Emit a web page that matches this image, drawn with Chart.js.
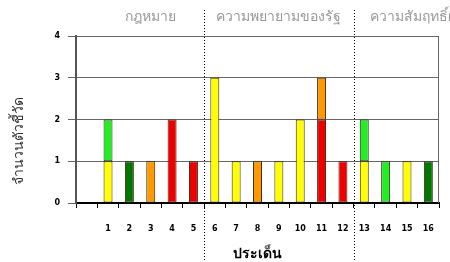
<!DOCTYPE html>
<html lang="th">

<head>
    <meta charset="UTF-8">
    <title>จำนวนตัวชี้วัดตามประเด็น</title>
    <style>
        html, body {
            margin: 0;
            padding: 0;
            background: #fff;
        }

        #wrap {
            width: 450px;
            height: 262px;
            position: relative;
        }
    </style>
    <script src="https://cdn.jsdelivr.net/npm/chart.js"></script>
</head>

<body>
    <div id="wrap"><canvas id="chart"></canvas></div>

    <script>
        // ข้อมูล
        const categories = ['', '1', '2', '3', '4', '5', '6', '7', '8', '9', '10', '11', '12', '13', '14', '15', '16'];
        const yellowVals    = [null, 1, null, null, null, null, 3, 1, null, 1, 2, null, null, 1, null, 1, null];
        const redVals       = [null, null, null, null, 2, 1, null, null, null, null, null, 2, 1, null, null, null, null];
        const darkGreenVals = [null, null, 1, null, null, null, null, null, null, null, null, null, null, null, null, null, 1];
        const orangeVals    = [null, null, null, 1, null, null, null, null, 1, null, null, 1, null, null, null, null, null];
        const greenVals     = [null, 1, null, null, null, null, null, null, null, null, null, null, null, 1, 1, null, null];
        const yTicks = [0, 1, 2, 3, 4];

        // กลุ่มประเด็น: ชื่อ, ประเด็นแรก, ประเด็นสุดท้าย
        const sections = [
            { name: 'กฎหมาย', from: 1, to: 5 },
            { name: 'ความพยายามของรัฐ', from: 6, to: 12 },
            { name: 'ความสัมฤทธิ์ผล', from: 13, to: 16 }
        ];
        const yTitle = 'จำนวนตัวชี้วัด';
        const xTitle = 'ประเด็น';

        const thaiFont = "Tahoma, 'Noto Sans', sans-serif";

        function ds(label, data, color) {
            return {
                label: label,
                data: data,
                backgroundColor: color,
                borderColor: '#3a2a1a',
                borderWidth: 1,
                borderSkipped: false,
                barPercentage: 0.42,
                categoryPercentage: 1
            };
        }

        // เส้นประแบ่งกลุ่ม + ชื่อกลุ่ม + กรอบด้านขวา + ชื่อแกน y
        const sectionPlugin = {
            id: 'sections',
            afterDraw(chart) {
                const c = chart.ctx;
                const x = chart.scales.x;
                const area = chart.chartArea;
                const step = x.getPixelForValue(1) - x.getPixelForValue(0);

                c.save();
                // กรอบขวา
                c.strokeStyle = '#666';
                c.lineWidth = 1;
                c.beginPath();
                c.moveTo(area.right - 0.5, area.top);
                c.lineTo(area.right - 0.5, area.bottom);
                c.stroke();

                // เส้นประ
                c.strokeStyle = '#000';
                c.setLineDash([1, 2]);
                sections.slice(1).forEach(s => {
                    const px = Math.round(x.getPixelForValue(s.from) - step / 2) + 0.5;
                    c.beginPath();
                    c.moveTo(px, 10);
                    c.lineTo(px, chart.height);
                    c.stroke();
                });
                c.setLineDash([]);

                // ชื่อกลุ่ม
                c.fillStyle = '#999';
                c.font = '14px ' + thaiFont;
                c.textBaseline = 'middle';
                sections.forEach((s, i) => {
                    const left = x.getPixelForValue(s.from) - step / 2;
                    const right = x.getPixelForValue(s.to) + step / 2;
                    if (i === sections.length - 1) {
                        c.textAlign = 'left';
                        c.fillText(s.name, left + 16, 17);
                    } else {
                        c.textAlign = 'center';
                        c.fillText(s.name, (left + right) / 2, 17);
                    }
                });

                // ชื่อแกน y
                c.fillStyle = '#333';
                c.font = '14px ' + thaiFont;
                c.translate(19, 141);
                c.rotate(-Math.PI / 2);
                c.textAlign = 'center';
                c.fillText(yTitle, 0, 0);
                c.restore();
            }
        };

        const ctx = document.getElementById('chart').getContext('2d');
        const chart = new Chart(ctx, {
            type: 'bar',
            data: {
                labels: categories,
                datasets: [
                    ds('เหลือง', yellowVals, '#ffff00'),
                    ds('แดง', redVals, '#ee0000'),
                    ds('เขียวเข้ม', darkGreenVals, '#007700'),
                    ds('ส้ม', orangeVals, '#ff9900'),
                    ds('เขียว', greenVals, '#22ee22')
                ]
            },
            options: {
                responsive: true,
                maintainAspectRatio: false,
                animation: false,
                layout: { padding: { top: 36, right: 3, left: 0, bottom: 0 } },
                plugins: {
                    legend: { display: false },
                    tooltip: { enabled: false }
                },
                scales: {
                    x: {
                        stacked: true,
                        afterFit: s => { s.height = 59; },
                        grid: {
                            offset: true,
                            drawOnChartArea: false,
                            tickLength: 5,
                            color: '#000'
                        },
                        border: { color: '#000', width: 2 },
                        ticks: {
                            color: '#000',
                            padding: 16,
                            maxRotation: 0,
                            font: { family: 'DejaVu Sans', size: 8, weight: 'bold' }
                        },
                        title: {
                            display: true,
                            text: xTitle,
                            color: '#000',
                            padding: { top: 0, bottom: 0 },
                            font: { family: thaiFont, size: 14, weight: 'bold' }
                        }
                    },
                    y: {
                        stacked: true,
                        min: 0,
                        max: 4,
                        afterFit: s => { s.width = 76; },
                        afterBuildTicks: s => { s.ticks = yTicks.map(v => ({ value: v })); },
                        grid: {
                            color: '#666',
                            tickLength: 8
                        },
                        border: { color: '#555', width: 2 },
                        ticks: {
                            color: '#000',
                            padding: 8,
                            font: { family: 'DejaVu Sans', size: 8, weight: 'bold' }
                        }
                    }
                }
            },
            plugins: [sectionPlugin]
        });
    </script>
</body>

</html>
